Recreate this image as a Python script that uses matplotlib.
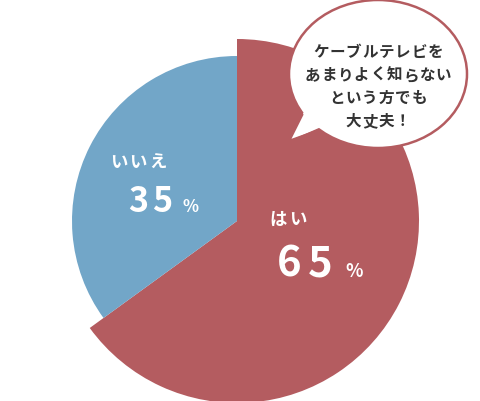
import matplotlib
matplotlib.use("Agg")
import matplotlib.pyplot as plt
from matplotlib.patches import Ellipse, Polygon

plt.rcParams['font.family'] = ['Noto Sans CJK JP', 'DejaVu Sans']

# data
labels = ["はい", "いいえ"]
values = [65, 35]
colors = ["#b45c60", "#72a6c8"]
bubble_lines = ["ケーブルテレビを", "あまりよく知らない", "という方でも", "大丈夫！"]

RED = colors[0]


def spaced_text(ax, x, y, s, step, **kw):
    # draw a string one char at a time to get letter spacing
    n = len(s)
    for i, ch in enumerate(s):
        ax.text(x + (i - (n - 1) / 2) * step, y, ch, ha="center", **kw)


fig = plt.figure(figsize=(4.8, 4.02), dpi=100)
ax = fig.add_axes([0, 0, 1, 1])

# pie: red slice sticks out further than the blue one
wedges, _ = ax.pie(values, colors=colors, startangle=-90, counterclock=True,
                   center=(237, 222), radius=165, frame=True)
wedges[0].set_radius(182)
ax.set_xlim(0, 480)
ax.set_ylim(402, 0)
ax.set_aspect("equal")
ax.axis("off")

# slice labels
spaced_text(ax, 288, 220, labels[0], 20, color="white", fontsize=12.5,
            fontweight="bold", va="center")
spaced_text(ax, 305, 277, str(values[0]), 31, color="white", fontsize=30,
            fontweight="bold", va="baseline")
ax.text(354, 277, "%", ha="center", va="baseline", color="white",
        fontsize=13, fontweight="bold")

spaced_text(ax, 138, 163, labels[1], 19.5, color="white", fontsize=12.5,
            fontweight="bold", va="center")
spaced_text(ax, 150, 212, str(values[1]), 24, color="white", fontsize=24.5,
            fontweight="bold", va="baseline")
ax.text(190, 212, "%", ha="center", va="baseline", color="white",
        fontsize=12, fontweight="bold")

# speech bubble
ell = Ellipse((378, 75), 178, 148, facecolor="white", edgecolor=RED,
              linewidth=1.8, zorder=5)
ax.add_patch(ell)
tail = [(302, 116), (289, 142), (317, 132)]
ax.add_patch(Polygon([(308, 105), tail[1], (328, 125)], closed=True,
                     facecolor="white", edgecolor="none", zorder=6))
ax.plot([tail[0][0], tail[1][0], tail[2][0]],
        [tail[0][1], tail[1][1], tail[2][1]],
        color=RED, linewidth=1.8, zorder=7, solid_joinstyle="miter")

for i, line in enumerate(bubble_lines):
    spaced_text(ax, 378, 52 + i * 23, line, 16.4, color="#333333",
                fontsize=11.2, fontweight="bold", va="center", zorder=8)

plt.savefig("out.png", dpi=100)
